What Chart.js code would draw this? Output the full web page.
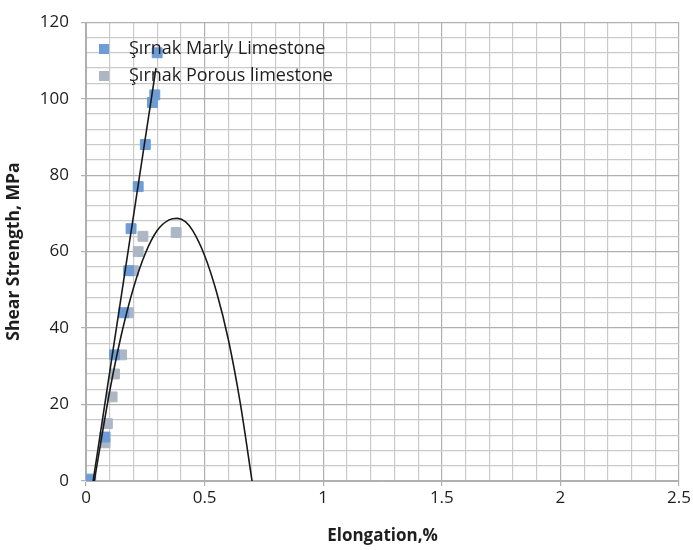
<!DOCTYPE html>
<html>
<head>
<meta charset="utf-8">
<script src="https://cdn.jsdelivr.net/npm/chart.js@4/dist/chart.umd.min.js"></script>
<style>
  html, body { margin: 0; padding: 0; background: #fff; }
  #wrap { width: 693px; height: 550px; }
</style>
</head>
<body>
<div id="wrap"><canvas id="chart" width="693" height="550"></canvas></div>
<script>
// values
const marlyX = [0.02, 0.08, 0.12, 0.16, 0.18, 0.19, 0.22, 0.25, 0.28, 0.29, 0.30];
const marlyY = [0.5, 11.5, 33, 44, 55, 66, 77, 88, 99, 101, 112];
const porousX = [0.01, 0.08, 0.09, 0.11, 0.12, 0.15, 0.18, 0.20, 0.22, 0.24, 0.38];
const porousY = [0, 10, 15, 22, 28, 33, 44, 55, 60, 64, 65];

// trendlines
const marlyFitX = [0.03, 0.295];
const marlyFitY = [0, 108];
const porousFitX = [0.035, 0.1, 0.15, 0.2, 0.25, 0.3, 0.35, 0.385, 0.42, 0.45, 0.5, 0.55, 0.6, 0.65, 0.70];
const porousFitY = [0, 23.5, 38.5, 50.5, 59.5, 65.5, 68.3, 68.7, 67.8, 65.5, 59, 49.5, 37, 20.5, 0];

const xTicks = [0, 0.5, 1, 1.5, 2, 2.5];
const yTicks = [0, 20, 40, 60, 80, 100, 120];

const FONT = "'Open Sans', 'Liberation Sans', sans-serif";
const TEXT = "#1e1e1e";
const toXY = (xs, ys) => xs.map((x, i) => ({ x, y: ys[i] }));
const isMajor = (v, step) => Math.abs(v / step - Math.round(v / step)) < 1e-6;

const insideLegend = {
  id: "insideLegend",
  afterDraw(chart) {
    const ctx = chart.ctx;
    const items = chart.data.datasets.filter((d) => d.inLegend);
    ctx.save();
    ctx.font = "18px " + FONT;
    ctx.textBaseline = "middle";
    items.forEach((d, i) => {
      const y = 49 + i * 27;
      ctx.fillStyle = d.backgroundColor;
      ctx.fillRect(99, y - 5, 10, 10);
      ctx.fillStyle = TEXT;
      ctx.fillText(d.label, 129, y);
    });
    ctx.restore();
  },
};

new Chart(document.getElementById("chart"), {
  type: "scatter",
  data: {
    datasets: [
      {
        label: "Şırnak Marly Limestone",
        inLegend: true,
        data: toXY(marlyX, marlyY),
        backgroundColor: "#6e9dd6",
        borderColor: "#6e9dd6",
        pointStyle: "rect",
        pointRadius: 7,
        order: 2,
      },
      {
        label: "Şırnak Porous limestone",
        inLegend: true,
        data: toXY(porousX, porousY),
        backgroundColor: "#adb7c4",
        borderColor: "#adb7c4",
        pointStyle: "rect",
        pointRadius: 7,
        order: 3,
      },
      {
        label: "marly fit",
        data: toXY(marlyFitX, marlyFitY),
        showLine: true,
        borderColor: "#1a1a1a",
        borderWidth: 1.6,
        pointRadius: 0,
        order: 1,
      },
      {
        label: "porous fit",
        data: toXY(porousFitX, porousFitY),
        showLine: true,
        tension: 0.4,
        cubicInterpolationMode: "monotone",
        borderColor: "#1a1a1a",
        borderWidth: 1.6,
        pointRadius: 0,
        order: 1,
      },
    ],
  },
  options: {
    responsive: false,
    animation: false,
    layout: { padding: { top: 19, right: 9, left: 0, bottom: 0 } },
    plugins: { legend: { display: false }, tooltip: { enabled: false } },
    scales: {
      x: {
        type: "linear",
        min: xTicks[0],
        max: xTicks[xTicks.length - 1],
        afterFit: (s) => { s.height = 69; },
        ticks: {
          stepSize: 0.1,
          autoSkip: false,
          maxRotation: 0,
          color: TEXT,
          font: { family: FONT, size: 17 },
          padding: 2,
          callback: (v) => (isMajor(v, 0.5) ? String(v) : ""),
        },
        grid: {
          color: (c) => (isMajor(c.tick.value, 0.5) ? "#b0b0b0" : "#cacaca"),
          lineWidth: 1.2,
          tickLength: 5,
          tickColor: (c) => (isMajor(c.tick.value, 0.5) ? "#b0b0b0" : "rgba(0,0,0,0)"),
        },
        border: { color: "#b0b0b0" },
        title: {
          display: true,
          text: "Elongation,%",
          color: TEXT,
          font: { family: FONT, size: 17, weight: "bold" },
          padding: { top: 8 },
        },
      },
      y: {
        type: "linear",
        min: yTicks[0],
        max: yTicks[yTicks.length - 1],
        afterFit: (s) => { s.width = 86; },
        ticks: {
          stepSize: 4,
          autoSkip: false,
          color: TEXT,
          font: { family: FONT, size: 17 },
          padding: 12,
          callback: (v) => (isMajor(v, 20) ? String(v) : ""),
        },
        grid: {
          color: (c) => (isMajor(c.tick.value, 20) ? "#b0b0b0" : "#cacaca"),
          lineWidth: 1.2,
          tickLength: 5,
          tickColor: (c) => (isMajor(c.tick.value, 20) ? "#b0b0b0" : "rgba(0,0,0,0)"),
        },
        border: { color: "#b0b0b0" },
        title: {
          display: true,
          text: "Shear Strength, MPa",
          color: TEXT,
          font: { family: FONT, size: 17.5, weight: "bold" },
          padding: { top: 4, bottom: 0 },
        },
      },
    },
  },
  plugins: [insideLegend],
});
</script>
</body>
</html>
